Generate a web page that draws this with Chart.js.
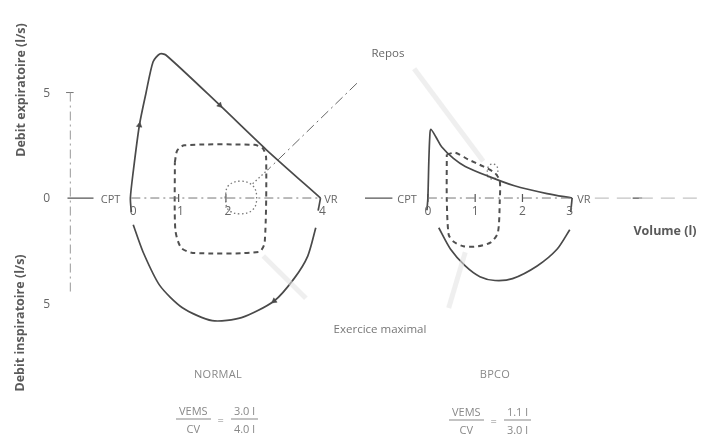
<!DOCTYPE html>
<html lang="fr">
<head>
  <meta charset="UTF-8">
  <title>Courbes débit-volume</title>
  <style>
    body {
      margin: 0;
      background: #fff;
      font-family: 'Open Sans', sans-serif;
      color: #555;
    }

    #wrap {
      position: relative;
      width: 709px;
      height: 441px;
    }

    .lbl {
      position: absolute;
      white-space: nowrap;
      line-height: 1;
      transform: translate(-50%, -50%);
    }

    .ytitle {
      font-weight: 700;
      font-size: 12.5px;
      color: #5a5a5a;
      transform: translate(-50%, -50%) rotate(-90deg);
    }

    .tick { font-size: 12px; color: #666; }
    .axname { font-size: 11px; color: #666; }
    .note { font-size: 11.5px; color: #777; }
    .group { font-size: 11px; color: #888; letter-spacing: 0.3px; }

    .formula { font-size: 11px; color: #888; display: flex; align-items: center; gap: 7px; }
    .frac { display: inline-flex; flex-direction: column; align-items: center; }
    .frac span:first-child { border-bottom: 1px solid #888; padding: 0 3px 3px; }
    .frac span:last-child { padding-top: 3px; }
  </style>
  <script src="https://cdn.jsdelivr.net/npm/chart.js@4.4.4/dist/chart.umd.js"></script>
</head>

<body>
  <div id="wrap">
    <canvas id="loops" width="709" height="441"></canvas>
    <div class="lbl ytitle" style="left:21px; top:90px;">Debit expiratoire (l/s)</div>
    <div class="lbl ytitle" style="left:20px; top:323px;">Debit inspiratoire (l/s)</div>
    <div class="lbl ytitle" style="left:665px; top:231px; transform: translate(-50%, -50%);">Volume (l)</div>
    <div class="lbl note" style="left:388px; top:53px; color:#666;">Repos</div>
    <div class="lbl note" style="left:380px; top:329px;">Exercice maximal</div>
    <div class="lbl group" style="left:218px; top:373px;">NORMAL</div>
    <div class="lbl group" style="left:495px; top:373px;">BPCO</div>
    <div class="lbl formula" style="left:217px; top:419px;">
      <span class="frac"><span>VEMS</span><span>CV</span></span>=
      <span class="frac"><span>3.0 l</span><span>4.0 l</span></span>
    </div>
    <div class="lbl formula" style="left:490px; top:420px;">
      <span class="frac"><span>VEMS</span><span>CV</span></span>=
      <span class="frac"><span>1.1 l</span><span>3.0 l</span></span>
    </div>
  </div>

  <script>
    // volumes in litres, flows in l/s (expiration positive)
    const normalExpVolume = [0, -0.02, 0.04, 0.17, 0.31, 0.46, 0.6, 0.73, 1.87, 2.85, 4.0, 3.95];
    const normalExpFlow = [-0.67, 0, 1.25, 3.45, 4.98, 6.46, 6.83, 6.78, 4.4, 2.3, 0, -0.6];
    const normalInspVolume = [0.04, 0.25, 0.6, 1.08, 1.71, 2.33, 3.02, 3.44, 3.73, 3.9];
    const normalInspFlow = [-1.27, -2.57, -4.14, -5.2, -5.81, -5.67, -4.88, -3.82, -2.75, -1.41];
    const normalExerciseVolume = [0.92, 0.97, 1.12, 2.6, 2.78, 2.85, 2.82, 2.7, 1.3, 1.05, 0.93, 0.92];
    const normalExerciseFlow = [1.7, 2.25, 2.5, 2.52, 2.35, 1.9, -2.1, -2.55, -2.6, -2.35, -1.5, 1.7];
    const normalRestVolume = [1.98, 2.05, 2.31, 2.57, 2.65, 2.57, 2.31, 2.05, 1.98];
    const normalRestFlow = [0, 0.58, 0.8, 0.58, 0, -0.55, -0.75, -0.55, 0];

    const bpcoExpVolume = [-0.02, 0, 0.02, 0.04, 0.06, 0.17, 0.29, 0.54, 0.79, 1.27, 1.83, 2.52, 3.05, 3.02];
    const bpcoExpFlow = [-0.58, 0, 1.74, 2.89, 3.26, 2.89, 2.43, 1.88, 1.5, 1.04, 0.58, 0.21, 0, -0.67];
    const bpcoInspVolume = [0.23, 0.48, 0.79, 1.1, 1.42, 1.79, 2.31, 2.73, 3.0];
    const bpcoInspFlow = [-1.41, -2.43, -3.22, -3.73, -3.91, -3.82, -3.22, -2.43, -1.5];
    const bpcoExerciseVolume = [0.4, 0.58, 0.85, 1.17, 1.42, 1.52, 1.52, 1.48, 1.33, 1.06, 0.75, 0.54, 0.44, 0.4, 0.4];
    const bpcoExerciseFlow = [2.06, 2.15, 1.83, 1.5, 1.18, 0.81, -0.12, -1.64, -2.1, -2.29, -2.29, -2.06, -1.74, -0.12, 2.06];
    const bpcoRestVolume = [1.25, 1.28, 1.38, 1.47, 1.45, 1.35, 1.25];
    const bpcoRestFlow = [1.05, 1.5, 1.62, 1.45, 1.0, 0.9, 1.05];

    const normalTicks = [0, 1, 2, 4];
    const bpcoTicks = [0, 1, 2, 3];
    const flowTicks = [5, 0, -5];

    // the BPCO loop sits to the right of the normal one on the same volume axis
    const bpcoShift = 6.27;

    const ink = '#4a4a4a';

    function pts(vol, flow, shift = 0) {
      return vol.map((v, i) => ({ x: v + shift, y: flow[i] }));
    }

    function line(data, style) {
      return Object.assign({
        data: data,
        showLine: true,
        pointRadius: 0,
        borderColor: ink,
        borderWidth: 1.6,
        tension: 0.3,
        fill: false
      }, style);
    }

    const solid = { borderColor: ink, borderWidth: 1.7, tension: 0.25 };
    const corner = { borderColor: ink, borderWidth: 1.7, tension: 0 };
    const dashed = { borderColor: '#505050', borderWidth: 2, borderDash: [5, 4], tension: 0.25 };
    const dotted = { borderColor: '#777', borderWidth: 1.3, borderDash: [1.5, 2.5], tension: 0.4 };
    const dashDot = { borderColor: '#777', borderWidth: 1, borderDash: [9, 4, 2, 4], tension: 0 };
    const faint = { borderColor: 'rgba(225,225,225,0.55)', borderWidth: 5, tension: 0 };

    const normalExp = pts(normalExpVolume, normalExpFlow);
    const bpcoExp = pts(bpcoExpVolume, bpcoExpFlow, bpcoShift);

    const datasets = [
      // axes drawn through zero flow
      line([{ x: -1.35, y: 0 }, { x: -0.8, y: 0 }], { borderColor: '#555', borderWidth: 1.3, tension: 0 }),
      line([{ x: 0, y: 0 }, { x: 4.0, y: 0 }], dashDot),
      line([{ x: -1.29, y: 5.0 }, { x: -1.29, y: -4.6 }], Object.assign({}, dashDot, { borderColor: '#999' })),
      line([{ x: -1.38, y: 5.0 }, { x: -1.22, y: 5.0 }], { borderColor: '#777', borderWidth: 1, tension: 0 }),
      line([{ x: 4.94, y: 0 }, { x: 5.52, y: 0 }], { borderColor: '#555', borderWidth: 1.3, tension: 0 }),
      line([{ x: bpcoShift, y: 0 }, { x: bpcoShift + 3.05, y: 0 }], dashDot),
      line([{ x: 9.8, y: 0 }, { x: 12.0, y: 0 }], { borderColor: '#c4c4c4', borderWidth: 1.3, borderDash: [14, 8], tension: 0 }),
      line([{ x: 10.6, y: 0 }, { x: 10.8, y: 0 }], { borderColor: '#555', borderWidth: 1.3, tension: 0 }),

      // pointer lines from the annotations
      line([{ x: 4.77, y: 5.44 }, { x: 2.9, y: 1.37 }], Object.assign({}, dashDot, { borderColor: '#666', borderDash: [10, 4, 2, 4] })),
      line([{ x: 2.9, y: 1.37 }, { x: 2.54, y: 0.63 }], Object.assign({}, dotted, { tension: 0 })),
      line([{ x: 5.98, y: 6.13 }, { x: 7.44, y: 1.74 }], faint),
      line([{ x: 2.79, y: -2.75 }, { x: 3.69, y: -4.75 }], faint),
      line([{ x: 7.06, y: -2.57 }, { x: 6.71, y: -5.21 }], faint),

      // normal subject: the drop at VR is drawn as a sharp corner
      line(normalExp.slice(0, -1), solid),
      line(normalExp.slice(-2), corner),
      line(pts(normalInspVolume, normalInspFlow), solid),
      line(pts(normalExerciseVolume, normalExerciseFlow), dashed),
      line(pts(normalRestVolume, normalRestFlow), dotted),

      // BPCO
      line(bpcoExp.slice(0, -1), Object.assign({}, solid, { tension: 0.3 })),
      line(bpcoExp.slice(-2), corner),
      line(pts(bpcoInspVolume, bpcoInspFlow, bpcoShift), solid),
      line(pts(bpcoExerciseVolume, bpcoExerciseFlow, bpcoShift), dashed),
      line(pts(bpcoRestVolume, bpcoRestFlow, bpcoShift), dotted),

      // direction arrows along the normal loop
      {
        data: [{ x: 0.17, y: 3.45 }, { x: 1.87, y: 4.4 }, { x: 3.02, y: -4.88 }],
        showLine: false,
        pointStyle: 'triangle',
        pointRadius: 3.2,
        rotation: [9, 134, 233],
        backgroundColor: ink,
        borderColor: ink,
        borderWidth: 0.5
      },
      // small tick marks on the volume axes
      {
        data: [1, 2].map(v => ({ x: v, y: 0 }))
          .concat([0, 1, 2].map(v => ({ x: v + bpcoShift, y: 0 }))),
        showLine: false,
        pointStyle: 'line',
        rotation: 90,
        pointRadius: 4,
        borderColor: '#555',
        borderWidth: 1.2
      }
    ];

    const chart = new Chart('loops', {
      type: 'scatter',
      data: { datasets: datasets },
      options: {
        responsive: false,
        animation: false,
        layout: { padding: 0 },
        plugins: { legend: { display: false }, tooltip: { enabled: false } },
        scales: {
          x: { type: 'linear', display: false, min: -2.667, max: 12.104 },
          y: { type: 'linear', display: false, min: -11.27, max: 9.14 }
        }
      }
    });

    // axis labels placed through the chart scales
    const wrap = document.getElementById('wrap');
    const xs = chart.scales.x;
    const ys = chart.scales.y;

    function place(text, vx, vy, cls) {
      const el = document.createElement('div');
      el.className = 'lbl ' + cls;
      el.textContent = text;
      el.style.left = xs.getPixelForValue(vx) + 'px';
      el.style.top = ys.getPixelForValue(vy) + 'px';
      wrap.appendChild(el);
    }

    flowTicks.forEach(f => place(String(Math.abs(f)), -1.79, f, 'tick'));
    normalTicks.forEach(v => place(String(v), v + 0.04, -0.62, 'tick'));
    bpcoTicks.forEach(v => place(String(v), v + bpcoShift, -0.62, 'tick'));
    place('CPT', -0.44, 0, 'axname');
    place('VR', 4.22, 0, 'axname');
    place('CPT', bpcoShift - 0.44, 0, 'axname');
    place('VR', bpcoShift + 3.3, 0, 'axname');
  </script>
</body>

</html>
